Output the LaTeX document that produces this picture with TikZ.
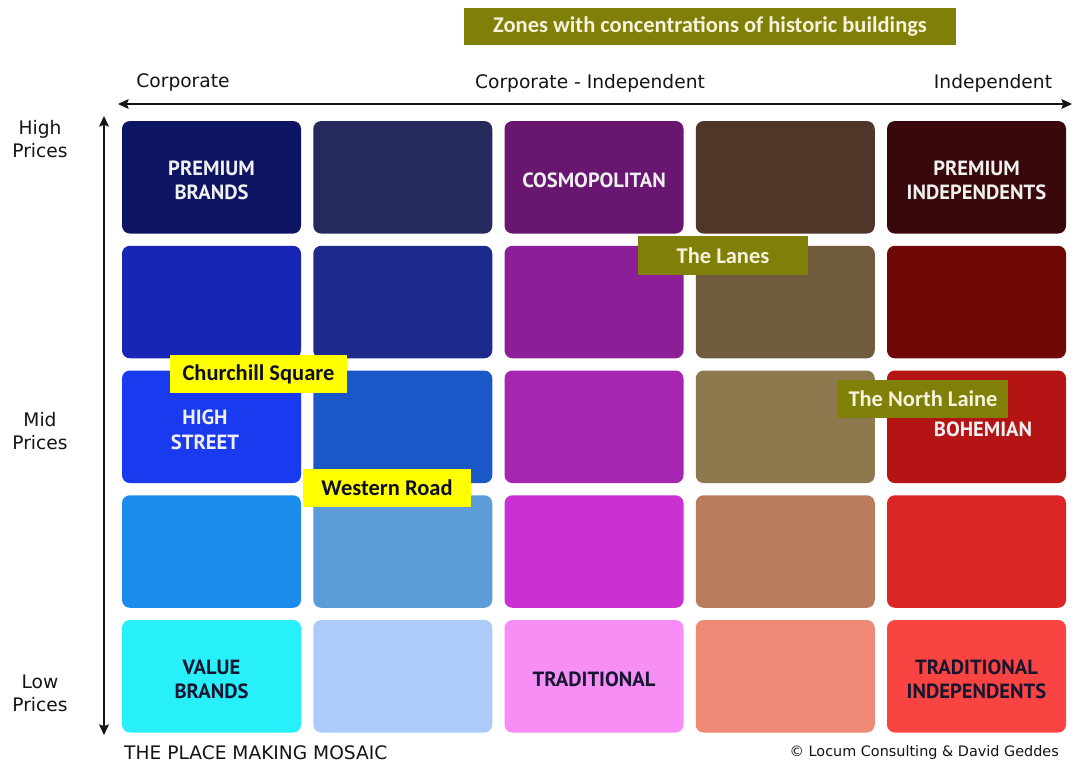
\documentclass[tikz,border=0pt]{standalone}
\usepackage{fontspec}
\setmainfont{DejaVu Sans}
\newfontfamily\cellfont{PT Sans}
\newfontfamily\tagfont{Carlito}
\usepackage{xcolor}
\usepackage{tikz}
\usetikzlibrary{arrows.meta, positioning}
% mosaic cells, row/column
\definecolor{cell11}{RGB}{14,20,100}
\definecolor{cell12}{RGB}{38,42,92}
\definecolor{cell13}{RGB}{104,22,112}
\definecolor{cell14}{RGB}{80,54,40}
\definecolor{cell15}{RGB}{56,8,10}
\definecolor{cell21}{RGB}{24,38,182}
\definecolor{cell22}{RGB}{28,42,140}
\definecolor{cell23}{RGB}{140,30,152}
\definecolor{cell24}{RGB}{112,92,60}
\definecolor{cell25}{RGB}{112,8,8}
\definecolor{cell31}{RGB}{26,58,240}
\definecolor{cell32}{RGB}{26,88,200}
\definecolor{cell33}{RGB}{166,38,178}
\definecolor{cell34}{RGB}{142,120,78}
\definecolor{cell35}{RGB}{180,20,20}
\definecolor{cell41}{RGB}{28,140,236}
\definecolor{cell42}{RGB}{92,156,216}
\definecolor{cell43}{RGB}{202,48,210}
\definecolor{cell44}{RGB}{186,124,92}
\definecolor{cell45}{RGB}{220,38,38}
\definecolor{cell51}{RGB}{40,240,250}
\definecolor{cell52}{RGB}{172,202,250}
\definecolor{cell53}{RGB}{246,142,246}
\definecolor{cell54}{RGB}{240,138,118}
\definecolor{cell55}{RGB}{250,68,66}
\definecolor{tagolive}{RGB}{128,128,8}
\definecolor{tagyellow}{RGB}{255,255,0}
\definecolor{tagcream}{RGB}{246,242,222}
\definecolor{labeldark}{RGB}{22,22,48}
\definecolor{axisdark}{RGB}{20,20,20}
\tikzset{
  cell/.style={rectangle, rounded corners=4.5pt, minimum width=3.58cm,
    minimum height=2.25cm, inner sep=0pt},
  celltext/.style={font=\cellfont\bfseries\fontsize{11.7}{13.7}\selectfont,
    align=center, text=white!94!black, yshift=-0.06cm},
  darktext/.style={celltext, text=labeldark},
  axislabel/.style={font=\fontsize{10.6}{13}\selectfont, text=axisdark, align=center},
  tag/.style={rectangle, fill=tagolive, text=tagcream, inner sep=0pt,
    font=\tagfont\bfseries\fontsize{12.8}{14}\selectfont,
    minimum width=3.4cm, minimum height=0.77cm},
  yellowtag/.style={tag, fill=tagyellow, text=labeldark!70!black},
  axis/.style={{Stealth[length=6pt, width=5.5pt, inset=1pt]}-{Stealth[length=6pt, width=5.5pt, inset=1pt]},
    line width=1.1pt, color=axisdark}
}

\begin{document}
\begin{tikzpicture}
  \useasboundingbox[fill=white] (0,0) rectangle (21.68,-15.28);

  % axes
  \coordinate (xleft) at (2.36,-2.08);
  \coordinate (xright) at (21.44,-2.08);
  \coordinate (ytop) at (2.08,-2.32);
  \coordinate (ybot) at (2.08,-14.70);
  \draw[axis] (xleft) -- (xright);
  \draw[axis] (ytop) -- (ybot);

  \node[axislabel] (corp) at (3.66,-1.66) {Corporate};
  \node[axislabel] (corpind) at (11.80,-1.66) {Corporate - Independent};
  \node[axislabel] (indep) at (19.86,-1.66) {Independent};
  \node[axislabel] (high) at (0.80,-2.78) {High\\Prices};
  \node[axislabel] (mid) at (0.80,-8.62) {Mid\\Prices};
  \node[axislabel] (low) at (0.80,-13.86) {Low\\Prices};

  % 5 x 5 mosaic
  \foreach \j in {1,...,5}
    \foreach \i in {1,...,5}
      \node[cell, fill=cell\j\i] (c\j\i) at ({4.23+3.825*(\i-1)},{-3.546-2.495*(\j-1)}) {};

  \node[celltext] (pbrands) at (c11) {PREMIUM\\BRANDS};
  \node[celltext] (cosmo) at (c13) {COSMOPOLITAN};
  \node[celltext] (pindep) at (c15) {PREMIUM\\INDEPENDENTS};
  \node[celltext] (hstreet) at ([xshift=-0.13cm]c31) {HIGH\\STREET};
  \node[celltext] (bohem) at ([xshift=0.13cm]c35) {BOHEMIAN};
  \node[darktext] (vbrands) at (c51) {VALUE\\BRANDS};
  \node[darktext] (trad) at (c53) {TRADITIONAL};
  \node[darktext] (tindep) at (c55) {TRADITIONAL\\INDEPENDENTS};

  % place tags
  \node[tag, minimum width=9.84cm, minimum height=0.74cm] (zones) at (14.20,-0.53)
    {Zones with concentrations of historic buildings};
  \node[tag] (lanes) at (14.46,-5.11) {The Lanes};
  \node[tag] (nlaine) at (18.46,-7.98) {The North Laine};
  \node[yellowtag, minimum width=3.54cm] (churchill) at (5.17,-7.48) {Churchill Square};
  \node[yellowtag, minimum width=3.36cm] (western) at (7.74,-9.76) {Western Road};

  \node[axislabel, anchor=west] (mosaic) at (2.36,-15.06) {THE PLACE MAKING MOSAIC};
  \node[font=\fontsize{8.2}{10}\selectfont, text=axisdark, anchor=east] (credit) at (21.30,-15.06)
    {\textcopyright\ Locum Consulting \& David Geddes};
\end{tikzpicture}
\end{document}
